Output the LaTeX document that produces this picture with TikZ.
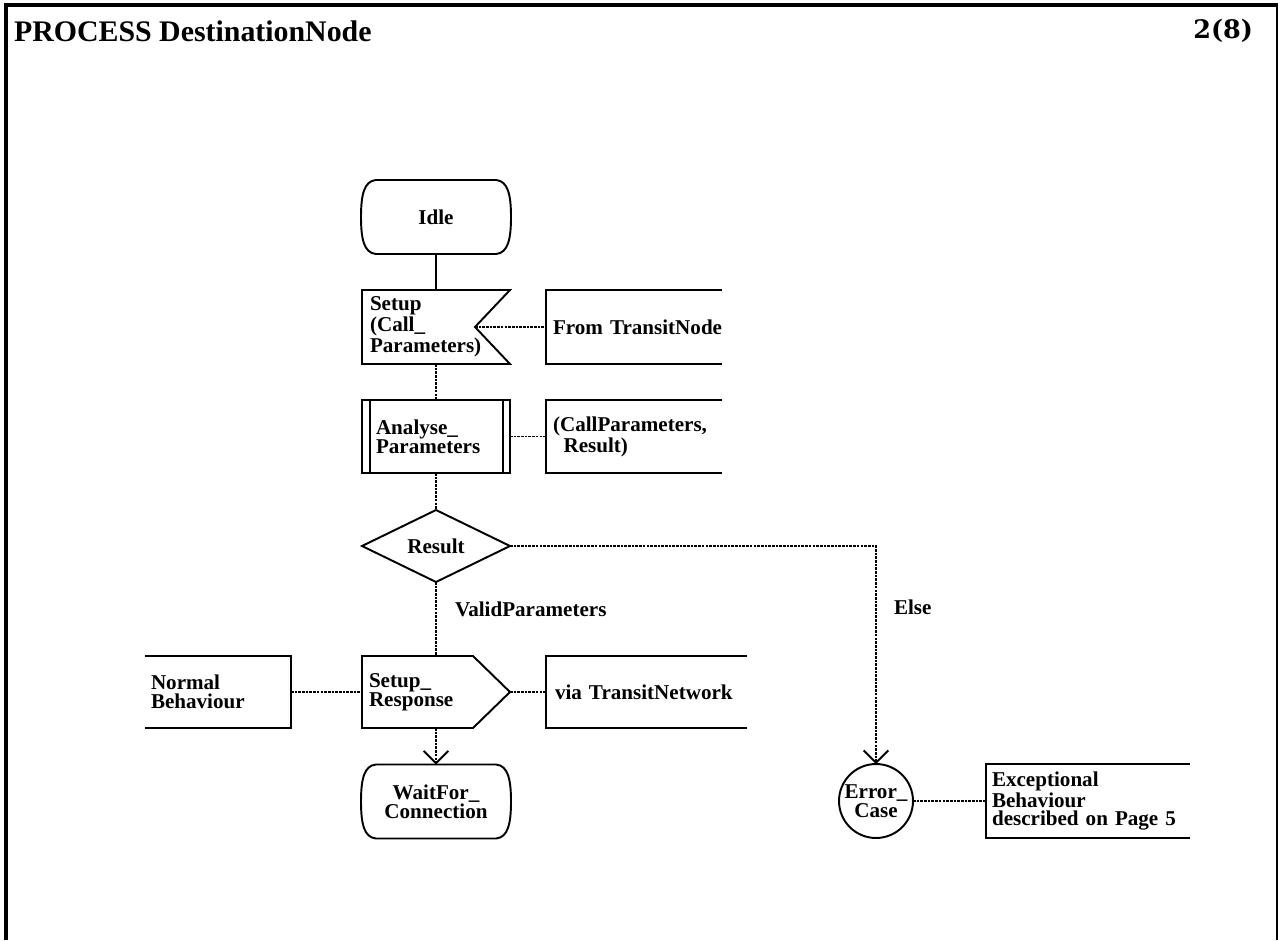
\documentclass[tikz,border=0pt]{standalone}
\usepackage{fontspec}
\usetikzlibrary{arrows.meta}
\newfontfamily\sdlfont{Liberation Serif}
\newfontfamily\pageserif{DejaVu Serif}

% state symbol: flat top and bottom, bulging sides (local offsets in px)
\newcommand\DrawSdlState[1]{%
  \draw[outline,shift={(#1.center)}]
    (-60,-37) -- (60,-37)
    .. controls (72,-36) and (75,-22) .. (75,0)
    .. controls (75,22) and (72,36) .. (60,37)
    -- (-60,37)
    .. controls (-72,36) and (-75,22) .. (-75,0)
    .. controls (-75,-22) and (-72,-36) .. (-60,-37) -- cycle;}
% text symbol open on its right side
\newcommand\DrawOpenRight[1]{%
  \draw[outline] (#1.north east) -- (#1.north west) -- (#1.south west) -- (#1.south east);}
% text symbol open on its left side
\newcommand\DrawOpenLeft[1]{%
  \draw[outline] (#1.north west) -- (#1.north east) -- (#1.south east) -- (#1.south west);}

\begin{document}
\begin{tikzpicture}[x=0.02cm, y=-0.02cm,
  every node/.style={inner sep=0pt, outer sep=0pt},
  sdl/.style={font=\sdlfont\bfseries\fontsize{12pt}{10.7pt}\selectfont},
  titlefont/.style={font=\sdlfont\bfseries\fontsize{17pt}{18pt}\selectfont},
  outline/.style={draw=black, line width=1.1pt, line join=miter},
  flow/.style={draw=black, line width=1.1pt, dash pattern=on 1.5pt off 0.6pt},
  solidflow/.style={draw=black, line width=1.1pt},
  tip/.style={-{Straight Barb[length=7pt,width=14pt]}},
  symbol/.style={sdl, align=left, minimum height=1.48cm},
  textbox/.style={sdl, align=left, minimum height=1.48cm, inner xsep=0.14cm, text width=3.24cm},
]
\useasboundingbox (0,0) rectangle (1278,940);

% page frame
\draw[line width=2.2pt] (6,940) -- (6,5) -- (1278,5);
\draw[line width=1.4pt] (1277,5) -- (1277,940);

\node[titlefont, anchor=base west] (title) at (14,41) {PROCESS DestinationNode};
\node[anchor=base east, font=\pageserif\bfseries\fontsize{14.5pt}{15pt}\selectfont] (pagenum) at (1253,38) {2(8)};

% start state
\node[sdl, align=center, minimum width=3cm, minimum height=1.48cm] (idle) at (436,217) {Idle};
\DrawSdlState{idle}

% input signal
\node[symbol, inner xsep=0.16cm, text width=2.64cm] (setup) at (436,327)
  {Setup\\(Call\_\\Parameters)};
\coordinate (setupnotch) at ([xshift=-0.7cm]setup.east);
\draw[outline] (setup.north west) -- (setup.north east) -- (setupnotch)
  -- (setup.south east) -- (setup.south west) -- cycle;
\node[textbox] (fromtn) at (634,327) {\mbox{From TransitNode}};
\DrawOpenRight{fromtn}

% procedure call
\node[symbol, inner xsep=0.28cm, text width=2.4cm, minimum height=1.46cm] (analyse) at (436,436.5)
  {Analyse\_\\Parameters};
\draw[outline] (analyse.north west) rectangle (analyse.south east);
\draw[outline] ([xshift=0.16cm]analyse.north west) -- ([xshift=0.16cm]analyse.south west);
\draw[outline] ([xshift=-0.14cm]analyse.north east) -- ([xshift=-0.14cm]analyse.south east);
\node[textbox, minimum height=1.46cm] (params) at (634,436.5)
  {\mbox{(CallParameters,}\\\mbox{\hspace{0.5em}Result)}};
\DrawOpenRight{params}

% decision
\node[sdl, align=center, minimum width=2.96cm, minimum height=1.44cm] (result) at (436,546) {Result};
\draw[outline] (result.north) -- (result.east) -- (result.south) -- (result.west) -- cycle;
\node[sdl, anchor=base west] (validlbl) at (455,616) {ValidParameters};
\node[sdl, anchor=base west] (elselbl) at (894,614) {Else};

% output signal
\node[symbol, inner xsep=0.14cm, text width=2.68cm, minimum height=1.44cm] (resp) at (436,692)
  {Setup\_\\Response};
\draw[outline] (resp.north west) -- ([xshift=-0.74cm]resp.north east) -- (resp.east)
  -- ([xshift=-0.74cm]resp.south east) -- (resp.south west) -- cycle;
\node[symbol, inner xsep=0.12cm, text width=2.68cm, minimum height=1.44cm] (normal) at (218,692)
  {Normal\\Behaviour};
\DrawOpenLeft{normal}
\node[textbox, inner xsep=0.18cm, text width=3.66cm, minimum height=1.44cm] (via) at (646.5,692)
  {\mbox{via TransitNetwork}};
\DrawOpenRight{via}

% next state
\node[sdl, align=center, minimum width=3cm, minimum height=1.48cm] (wait) at (436,801.5)
  {WaitFor\_\\Connection};
\DrawSdlState{wait}

% connector to another page
\node[sdl, align=center, minimum width=1.48cm, minimum height=1.48cm] (err) at (876,801)
  {Error\_\\Case};
\draw[outline] (err.center) circle[radius=0.74cm];
\node[textbox, inner xsep=0.12cm, text width=3.84cm] (exc) at (1088,801)
  {\mbox{Exceptional}\\\mbox{Behaviour}\\\mbox{described on Page 5}};
\DrawOpenRight{exc}

% flow lines
\draw[solidflow] (idle.south) -- (setup.north);
\draw[flow] (setupnotch) -- (fromtn.west);
\draw[flow] (setup.south) -- (analyse.north);
\draw[flow] (analyse.east) -- (params.west);
\draw[flow] (analyse.south) -- (result.north);
\draw[flow, tip] (result.east) -| (err.north);
\draw[flow] (result.south) -- (resp.north);
\draw[flow] (normal.east) -- (resp.west);
\draw[flow] (resp.east) -- (via.west);
\draw[flow, tip] (resp.south) -- (wait.north);
\draw[flow] (err.east) -- (exc.west);
\end{tikzpicture}
\end{document}
